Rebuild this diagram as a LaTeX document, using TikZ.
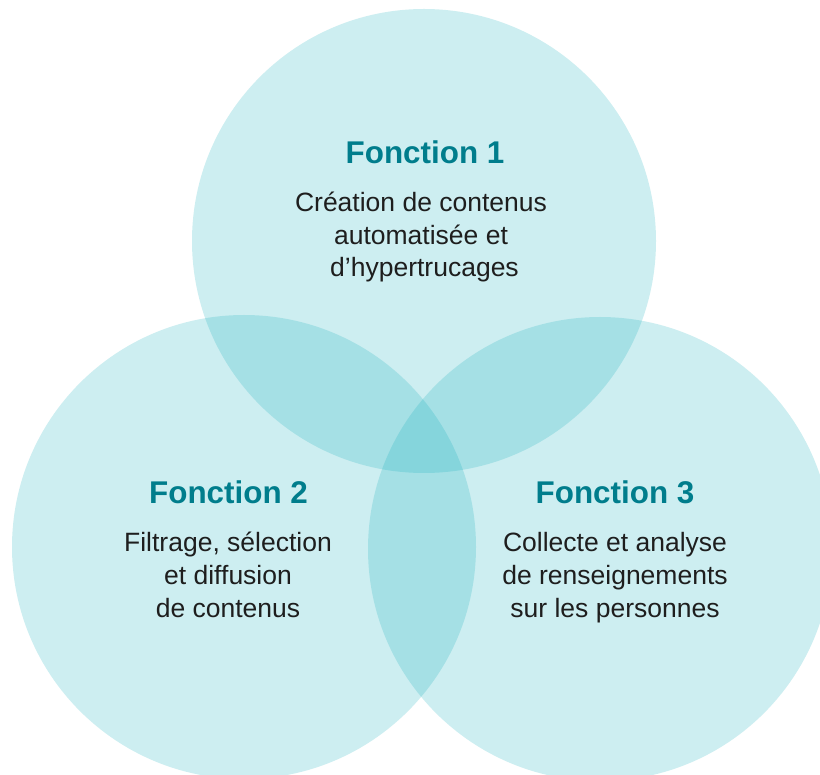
\documentclass[tikz,border=0pt]{standalone}
\usepackage{fontspec}
\setmainfont{Liberation Sans}
\definecolor{circ}{RGB}{5,170,185}
\definecolor{titlec}{RGB}{0,125,140}
\definecolor{bodyc}{RGB}{30,30,30}
\begin{document}
\begin{tikzpicture}[x=1pt,y=-1pt,
  venn/.style={fill=circ,fill opacity=0.2,draw=none},
  ttl/.style={anchor=base,text=titlec,font=\fontsize{31.4}{36}\selectfont\bfseries,inner sep=0pt},
  bodyline/.style={anchor=base,text=bodyc,font=\fontsize{26.5}{32}\selectfont,inner sep=0pt}]
\fill[white] (0,0) rectangle (820,775);
\useasboundingbox (0,0) rectangle (820,775);
\clip (0,0) rectangle (820,775);
\fill[venn] (424,241) circle[radius=232];
\fill[venn] (244,547) circle[radius=232];
\fill[venn] (600,549) circle[radius=232];
% Fonction 1
\node[ttl] (t1) at (425,164) {Fonction 1};
\node[bodyline] (a1) at (421,212) {Création de contenus};
\node[bodyline] (a2) at (421,244.5) {automatisée et};
\node[bodyline] (a3) at (424.5,277) {d’hypertrucages};
% Fonction 2
\node[ttl] (t2) at (228.5,504) {Fonction 2};
\node[bodyline] (b1) at (228,552) {Filtrage, sélection};
\node[bodyline] (b2) at (228,584.5) {et diffusion};
\node[bodyline] (b3) at (228,617) {de contenus};
% Fonction 3
\node[ttl] (t3) at (615,504) {Fonction 3};
\node[bodyline] (c1) at (615,552) {Collecte et analyse};
\node[bodyline] (c2) at (615,584.5) {de renseignements};
\node[bodyline] (c3) at (615,617) {sur les personnes};
\end{tikzpicture}
\end{document}
